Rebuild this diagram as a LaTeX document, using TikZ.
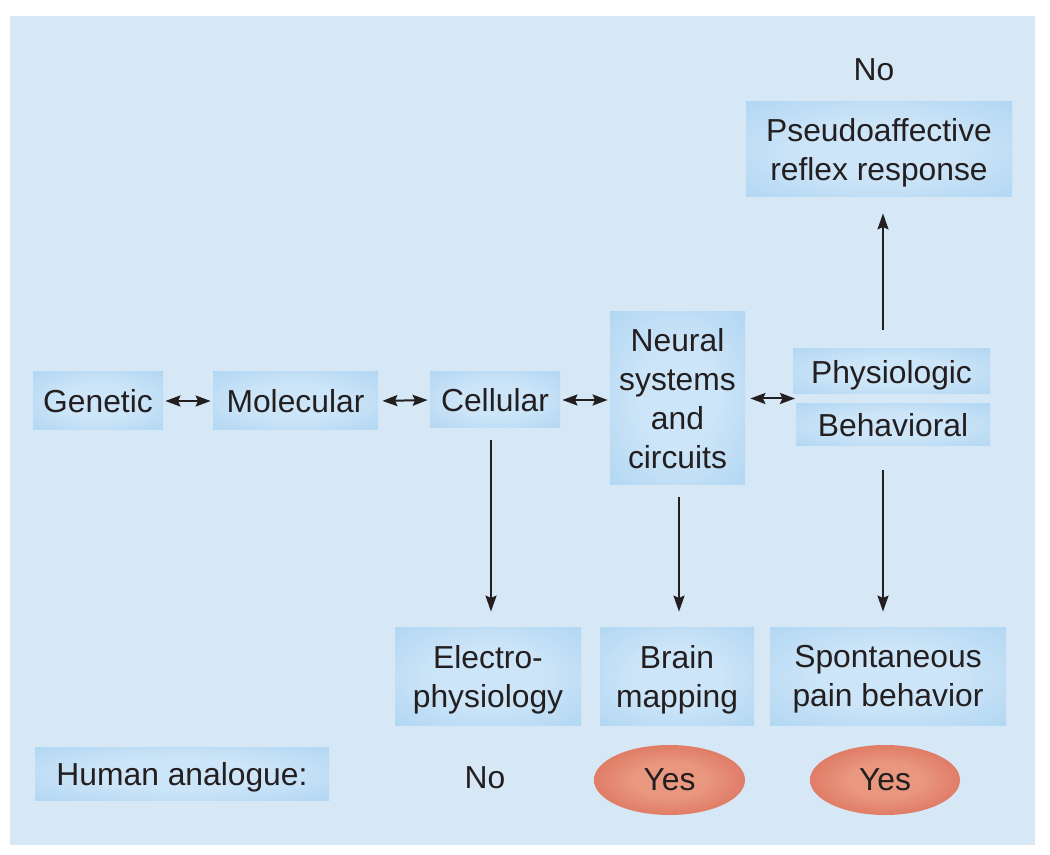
\documentclass[tikz,border=0pt]{standalone}
\usepackage{fontspec}
\setmainfont{Liberation Sans}
\usetikzlibrary{arrows.meta,shapes.geometric}
\definecolor{panel}{HTML}{D6E7F6}
\definecolor{boxin}{HTML}{CDE5F8}
\definecolor{boxmid}{HTML}{B4D8F3}
\definecolor{boxout}{HTML}{98C8EE}
\definecolor{redin}{HTML}{E9977F}
\definecolor{redmid}{HTML}{DA6A56}
\definecolor{redout}{HTML}{C23C31}
\definecolor{ink}{HTML}{231F20}
\pgfdeclareradialshading{boxglow}{\pgfpoint{0bp}{0bp}}{color(0bp)=(boxin); color(14bp)=(boxin); color(34bp)=(boxmid); color(46bp)=(boxout); color(75bp)=(boxout)}
\pgfdeclareradialshading{redglow}{\pgfpoint{0bp}{0bp}}{color(0bp)=(redin); color(12bp)=(redin); color(34bp)=(redmid); color(46bp)=(redout); color(75bp)=(redout)}
\begin{document}
\begin{tikzpicture}[x=0.5pt,y=-0.5pt,
  font=\fontsize{15.9}{19.5}\selectfont,
  bx/.style={shading=boxglow, text=ink, align=center, inner sep=0pt},
  oval/.style={ellipse, shading=redglow, text=ink, inner sep=0pt},
  plain/.style={text=ink, inner sep=0pt},
  dbl/.style={{Stealth[length=7.5pt,width=5.5pt,inset=1.2pt]}-{Stealth[length=7.5pt,width=5.5pt,inset=1.2pt]}, line width=1pt, draw=ink},
  arr/.style={-{Stealth[length=8pt,width=5.5pt,inset=1.2pt]}, line width=1pt, draw=ink}]
\useasboundingbox[fill=white] (0,0) rectangle (1050,855);
\fill[panel] (10,16) rectangle (1035,845);

\node[bx, minimum width=65pt, minimum height=29pt] (gen) at (98,401) {Genetic};
\node[bx, minimum width=82.5pt, minimum height=29pt] (mol) at (295.5,401) {Molecular};
\node[bx, minimum width=65pt, minimum height=28pt] (cel) at (495,400) {Cellular};
\node[bx, minimum width=67.5pt, minimum height=86.5pt, text depth=0pt] (neu) at (677.5,398.5) {Neural\\systems\\and\\circuits};
\node[bx, minimum width=98.5pt, minimum height=22.5pt, text depth=0pt] (phy) at (891.5,371.5) {Physiologic};
\node[bx, minimum width=97pt, minimum height=21pt] (beh) at (893,425) {Behavioral};
\node[bx, minimum width=133pt, minimum height=47.5pt, text depth=0pt] (pse) at (879,149.5) {Pseudoaffective\\reflex response};
\node[bx, minimum width=93pt, minimum height=49pt, text depth=0pt] (ele) at (488,676) {Electro-\\physiology};
\node[bx, minimum width=77pt, minimum height=49pt, text depth=0pt] (bra) at (677,676) {Brain\\mapping};
\node[bx, minimum width=118pt, minimum height=49pt, text depth=0pt] (spo) at (888,676) {Spontaneous\\pain behavior};
\node[bx, minimum width=147pt, minimum height=26.5pt, text depth=0pt] (hum) at (182,773.5) {Human analogue:};
\node[plain] (noT) at (874,70) {No};
\node[plain] (noB) at (485,778) {No};
\node[oval, minimum width=75.5pt, minimum height=35pt] (yes1) at (669.5,780) {Yes};
\node[oval, minimum width=75pt, minimum height=35pt] (yes2) at (885,780) {Yes};

\coordinate (pbw) at (795,398.5);

\draw[dbl, shorten <=1pt, shorten >=1pt] (gen.east) -- (mol.west);
\draw[dbl, shorten <=2pt, shorten >=1pt] (mol.east) -- (cel.west);
\draw[dbl, shorten <=1pt, shorten >=1pt] (cel.east) -- (neu.west |- cel.east);
\draw[dbl, shorten <=2.5pt] (neu.east) -- (pbw);

\draw[arr, shorten <=6pt, shorten >=7.5pt] ([xshift=-2pt]cel.south) -- ([xshift=-2pt]cel.south |- ele.north);
\draw[arr, shorten <=6pt, shorten >=7.5pt] ([xshift=0.75pt]neu.south) -- ([xshift=0.75pt]neu.south |- bra.north);
\draw[arr, shorten <=12pt, shorten >=7.5pt] ([xshift=-5pt]beh.south) -- ([xshift=-5pt]beh.south |- spo.north);
\draw[arr, shorten <=9.5pt, shorten >=8pt] ([xshift=-4.25pt]phy.north) -- ([xshift=-4.25pt]phy.north |- pse.south);
\end{tikzpicture}
\end{document}
